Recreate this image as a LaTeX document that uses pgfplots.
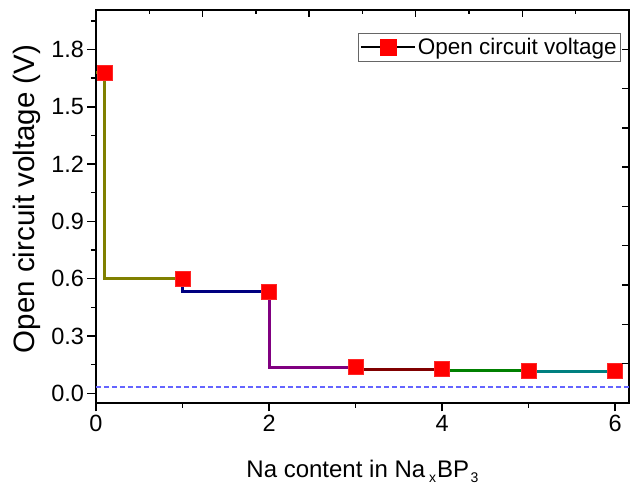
\documentclass[border=0pt]{standalone}
\usepackage{fontspec}
\setmainfont{Liberation Sans}
\usepackage{pgfplots}
\pgfplotsset{compat=1.18}
\definecolor{cOlive}{RGB}{128,128,0}
\definecolor{cNavy}{RGB}{0,0,128}
\definecolor{cPurple}{RGB}{128,0,128}
\definecolor{cDarkRed}{RGB}{128,0,0}
\definecolor{cGreen}{RGB}{0,128,0}
\definecolor{cTeal}{RGB}{0,128,128}
\definecolor{cDash}{RGB}{100,100,255}
\newcommand{\sub}[1]{\raisebox{-5pt}{\fontsize{14}{16}\selectfont #1}}
\begin{document}
\begin{tikzpicture}
\begin{axis}[
  at={(0,0)}, anchor=south west,
  scale only axis, width=533pt, height=393pt,
  xmin=0, xmax=6.16, ymin=-0.051, ymax=2.007,
  xtick={0,2,4,6}, minor xtick={1,3,5},
  ytick={0,0.3,0.6,0.9,1.2,1.5,1.8},
  minor ytick={0.15,0.45,0.75,1.05,1.35,1.65,1.95},
  xtick pos=bottom, ytick pos=left,
  tick align=outside,
  major tick length=8.5pt, minor tick length=5pt,
  every tick/.style={black, line width=1.4pt},
  axis line style={line width=1.5pt},
  /pgf/number format/assume math mode=true,
  yticklabel style={/pgf/number format/.cd, fixed, fixed zerofill, precision=1},
  tick label style={font=\fontsize{23.5}{27}\selectfont},
  every axis x label/.style={at={(axis description cs:0.5,-0.19)}, anchor=base, font=\fontsize{24}{28}\selectfont},
  every axis y label/.style={at={(axis description cs:-0.1163,0.519)}, anchor=base, rotate=90, font=\fontsize{29.5}{34}\selectfont},
  xlabel={Na content in Na\kern4pt\sub{x}\kern1pt BP\kern1.5pt\sub{3}},
  ylabel={Open circuit voltage (V)},
  legend style={at={(axis description cs:0.985,0.9415)}, anchor=north east,
    draw=black!60, line width=0.8pt, font=\fontsize{22.5}{26}\selectfont,
    inner xsep=2pt, inner ysep=3pt},
  legend image code/.code={
    \draw[black, line width=1.6pt] (0pt,0pt) -- (54pt,0pt);
    \fill[red] (19.5pt,-7.8pt) rectangle (35.1pt,7.8pt);
  },
]
\addplot[color=cDash, line width=1.8pt, dash pattern=on 5pt off 3pt, forget plot] coordinates {(0,0.031) (6.16,0.031)};
\addplot[cOlive, line width=3pt, forget plot] coordinates {(0,1.68) (0.1,1.68) (0.1,0.60) (1,0.60)};
\addplot[cNavy, line width=3pt, forget plot] coordinates {(1,0.60) (1,0.532) (2,0.532)};
\addplot[cPurple, line width=3pt, forget plot] coordinates {(2,0.532) (2,0.136) (3,0.136)};
\addplot[cDarkRed, line width=3pt, forget plot] coordinates {(3,0.136) (3,0.127) (4,0.127)};
\addplot[cGreen, line width=3pt, forget plot] coordinates {(4,0.127) (4,0.120) (5,0.120)};
\addplot[cTeal, line width=3pt, forget plot] coordinates {(5,0.120) (5,0.115) (6,0.115)};
\addplot[only marks, mark=square*, mark size=7.5pt, mark options={fill=red, draw=red!85!white, line width=0.6pt}] coordinates {(0.1,1.68) (1,0.60) (2,0.532) (3,0.136) (4,0.127) (5,0.120) (6,0.115)};
\addlegendentry{Open circuit voltage}
\end{axis}
\begin{axis}[
  at={(0,0)}, anchor=south west,
  scale only axis, width=533pt, height=393pt,
  xmin=0, xmax=10, ymin=0, ymax=10,
  axis line style={draw=none},
  xtick pos=top, ytick pos=right,
  tick align=inside,
  xtick={2,4,6,8}, minor xtick={1,3,5,7,9},
  ytick={1,2,3,4,5,6,7,8,9},
  xticklabels={}, yticklabels={},
  major tick length=7pt, minor tick length=4pt,
  every tick/.style={black, line width=1.4pt},
]
\addplot[draw=none, forget plot] coordinates {(0,0) (10,10)};
\end{axis}
\pgfresetboundingbox
\path (-96pt,-83pt) rectangle (537pt,403pt);
\end{tikzpicture}
\end{document}
